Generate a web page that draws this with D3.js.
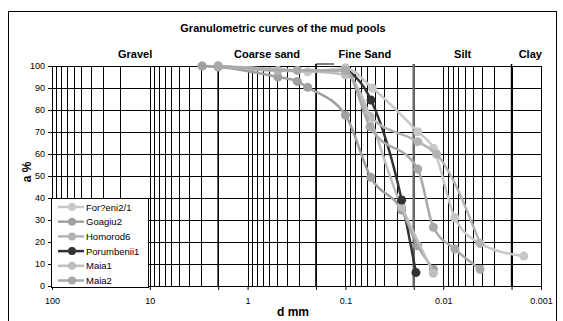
<!DOCTYPE html>
<html>
<head>
<meta charset="utf-8">
<title>Granulometric curves</title>
<script src="https://cdnjs.cloudflare.com/ajax/libs/d3/7.8.5/d3.min.js"></script>
<style>
  body { margin: 0; background: #fff; }
  text { font-family: "Liberation Sans", Arial, sans-serif; }
</style>
</head>
<body>
<script>
// chart data (d in mm, a in %)
var seriesNames = ["For?eni2/1", "Goagiu2", "Homorod6", "Porumbenii1", "Maia1", "Maia2"];
var foreni = [[2.92,100],[0.49,98],[0.243,97.4],[0.1,99],[0.053,90],[0.0182,70.1],[0.0126,62.6],[0.0076,31],[0.0042,19.4],[0.0015,13.6]];
var goagiu = [[2.92,100],[2,99.5],[0.49,95],[0.31,93],[0.243,90.3],[0.1,77.7],[0.055,49.4],[0.0266,34.5],[0.0182,18.3],[0.0126,7.6]];
var homorod = [[2,100],[0.49,98],[0.1,98],[0.056,77],[0.0182,65.6],[0.0117,60],[0.0042,19.4]];
var porumbenii = [[0.1,99],[0.0547,84.5],[0.0266,39.1],[0.019,6.1]];
var maia1 = [[2,100],[0.31,98],[0.1,96],[0.0266,36],[0.0126,5.8]];
var maia2 = [[2,100],[0.31,98],[0.1,98],[0.056,72.4],[0.0182,53.2],[0.0126,26.7],[0.0076,16.8],[0.0042,7.6]];
var seriesColors = ["#c8c8c8", "#a0a0a0", "#b4b4b4", "#333333", "#bebebe", "#a9a9a9"];

var xTickValues = [100, 10, 1, 0.1, 0.01, 0.001];
var xTickLabels = ["100", "10", "1", "0.1", "0.01", "0.001"];
var yTickValues = [0, 10, 20, 30, 40, 50, 60, 70, 80, 90, 100];
var classNames = ["Gravel", "Coarse sand", "Fine Sand", "Silt", "Clay"];
var classLimits = [100, 2, 0.2, 0.02, 0.002, 0.001];

var w = 563, h = 321;
var pl = 52, pr = 541, pt = 66, pb = 286;

var svg = d3.select("body").append("svg")
  .attr("width", w)
  .attr("height", h);

// outer frame
svg.append("rect")
  .attr("x", 8.5).attr("y", 11.5)
  .attr("width", 548).attr("height", 320)
  .attr("fill", "none").attr("stroke", "#000").attr("stroke-width", 1);

var x = d3.scaleLog().domain([100, 0.001]).range([pl, pr]);
var y = d3.scaleLinear().domain([0, 100]).range([pb, pt]);

// vertical grid: every 1..9 step of each decade
var gridX = [];
for (var e = -3; e <= 1; e++) {
  for (var k = 1; k <= 9; k++) {
    gridX.push(k * Math.pow(10, e));
  }
}
gridX.push(100);
svg.append("g").selectAll("line").data(gridX).enter().append("line")
  .attr("x1", function(d) { return Math.round(x(d)) + 0.5; })
  .attr("x2", function(d) { return Math.round(x(d)) + 0.5; })
  .attr("y1", pt).attr("y2", pb)
  .attr("stroke", "#000").attr("stroke-width", 1);

// horizontal grid
svg.append("g").selectAll("line").data(yTickValues).enter().append("line")
  .attr("x1", pl).attr("x2", pr)
  .attr("y1", function(d) { return Math.round(y(d)) + 0.5; })
  .attr("y2", function(d) { return Math.round(y(d)) + 0.5; })
  .attr("stroke", "#000").attr("stroke-width", 1);

// class boundaries
var bounds = classLimits.slice(1, 5);
svg.append("g").selectAll("line").data(bounds).enter().append("line")
  .attr("x1", function(d) { return x(d); })
  .attr("x2", function(d) { return x(d); })
  .attr("y1", pt - 2).attr("y2", pb)
  .attr("stroke", function(d, i) { return i == 2 ? "#666" : "#000"; })
  .attr("stroke-width", function(d, i) { return i == 2 ? 2.5 : 1.5; });
// small bracket over fine sand
svg.append("path")
  .attr("d", "M" + x(0.2) + "," + (pt + 1) + "V" + (pt - 2) + "H" + (x(0.2) + 18))
  .attr("fill", "none").attr("stroke", "#000").attr("stroke-width", 1);

// class labels
svg.append("g").selectAll("text").data(classNames).enter().append("text")
  .attr("x", function(d, i) { return (x(classLimits[i]) + x(classLimits[i + 1])) / 2 + (i == 4 ? 4 : 0); })
  .attr("y", 58)
  .attr("text-anchor", "middle")
  .attr("font-size", 11).attr("font-weight", "bold")
  .text(function(d) { return d; });

// title
svg.append("text")
  .attr("x", 283).attr("y", 32)
  .attr("text-anchor", "middle")
  .attr("font-size", 11).attr("font-weight", "bold")
  .text("Granulometric curves of the mud pools");

// axes
var xAxis = d3.axisBottom(x)
  .tickValues(xTickValues.concat(bounds))
  .tickSize(4)
  .tickFormat(function(d) {
    var i = xTickValues.indexOf(d);
    return i >= 0 ? xTickLabels[i] : "";
  });
var gx = svg.append("g").attr("transform", "translate(0," + pb + ")").call(xAxis);
gx.select(".domain").attr("stroke", "#000");
gx.selectAll("text").attr("font-size", 9).attr("dy", "1.2em").attr("font-family", "Liberation Sans, Arial, sans-serif");

var yAxis = d3.axisLeft(y).tickValues(yTickValues).tickSize(4).tickPadding(3);
var gy = svg.append("g").attr("transform", "translate(" + pl + ",0)").call(yAxis);
gy.selectAll("text").attr("font-size", 9).attr("font-family", "Liberation Sans, Arial, sans-serif");

// axis titles
svg.append("text")
  .attr("x", 293).attr("y", 316)
  .attr("text-anchor", "middle")
  .attr("font-size", 12).attr("font-weight", "bold")
  .text("d mm");
svg.append("text")
  .attr("transform", "translate(31,172) rotate(-90)")
  .attr("text-anchor", "middle")
  .attr("font-size", 12).attr("font-weight", "bold")
  .text("a %");

// curves
var allSeries = [foreni, goagiu, homorod, porumbenii, maia1, maia2];
var line = d3.line()
  .x(function(d) { return x(d[0]); })
  .y(function(d) { return y(d[1]); })
  .curve(d3.curveMonotoneX);

function drawSeries(si, withLine, filter) {
  var g = svg.append("g");
  if (withLine) {
    g.append("path")
      .attr("d", line(allSeries[si]))
      .attr("fill", "none")
      .attr("stroke", seriesColors[si])
      .attr("stroke-width", 2.5);
  }
  g.selectAll("circle").data(allSeries[si].filter(filter)).enter().append("circle")
    .attr("cx", function(d) { return x(d[0]); })
    .attr("cy", function(d) { return y(d[1]); })
    .attr("r", 4.5)
    .attr("fill", seriesColors[si]);
}
// black one: line + top marker under the greys, other markers on top
drawSeries(3, true, function(d) { return d[1] >= 95; });
[0, 1, 2, 4, 5].forEach(function(si) { drawSeries(si, true, function() { return true; }); });
drawSeries(3, false, function(d) { return d[1] < 95; });

// legend
var lg = svg.append("g");
lg.append("rect")
  .attr("x", 51.5).attr("y", 198.5)
  .attr("width", 97).attr("height", 89)
  .attr("fill", "#fff").attr("stroke", "#000");
var rows = lg.selectAll("g.row").data(seriesNames).enter().append("g")
  .attr("class", "row")
  .attr("transform", function(d, i) { return "translate(0," + (207 + i * 14.7) + ")"; });
rows.append("line")
  .attr("x1", 58).attr("x2", 84).attr("y1", 0).attr("y2", 0)
  .attr("stroke", function(d, i) { return seriesColors[i]; })
  .attr("stroke-width", 2.5);
rows.append("circle")
  .attr("cx", 72).attr("cy", 0).attr("r", 4)
  .attr("fill", function(d, i) { return seriesColors[i]; });
rows.append("text")
  .attr("x", 86).attr("y", 3.5)
  .attr("font-size", 9.5)
  .text(function(d) { return d; });
</script>
</body>
</html>
